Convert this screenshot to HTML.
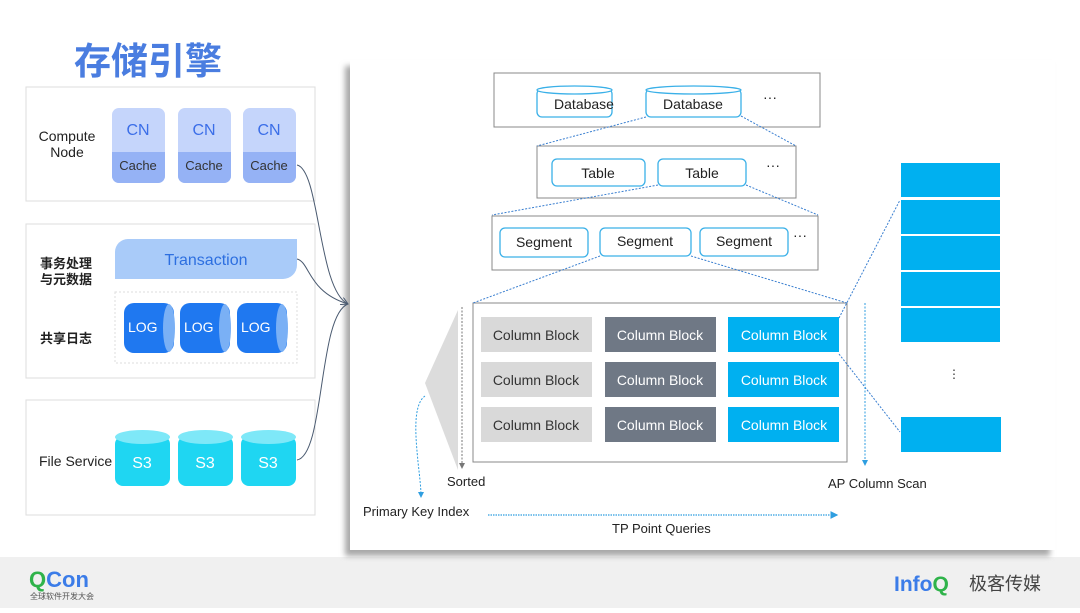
<!DOCTYPE html>
<html><head><meta charset="utf-8"><style>
html,body{margin:0;padding:0;background:#fff;}
svg text{font-family:"Liberation Sans","Noto Sans CJK SC",sans-serif;}
</style></head><body>
<svg width="1080" height="608" viewBox="0 0 1080 608" xmlns="http://www.w3.org/2000/svg">
<defs>
<filter id="sh" x="-5%" y="-5%" width="110%" height="115%"><feDropShadow dx="-5" dy="6" stdDeviation="3" flood-color="#999" flood-opacity="0.85"/></filter>
<marker id="ab" markerWidth="6" markerHeight="6" refX="5" refY="3" orient="auto"><path d="M0,0 L6,3 L0,6 z" fill="#2f9ee0"/></marker>
<marker id="ag" markerWidth="6" markerHeight="6" refX="5" refY="3" orient="auto"><path d="M0,0 L6,3 L0,6 z" fill="#777"/></marker>
<marker id="ak" markerWidth="8" markerHeight="8" refX="7" refY="4" orient="auto"><path d="M0,0 L7,4 L0,8" fill="none" stroke="#4a5a70" stroke-width="1"/></marker>
</defs>
<rect x="0" y="557" width="1080" height="51" fill="#f0f0f0"/>
<rect x="350" y="60" width="705" height="490" fill="#fff" filter="url(#sh)"/>

<text x="74" y="74" font-size="37" font-weight="bold" fill="#4a7de0">存储引擎</text>

<!-- left boxes -->
<rect x="26" y="87" width="289" height="114" fill="#fff" stroke="#ddd"/>
<rect x="26" y="224" width="289" height="154" fill="#fff" stroke="#ddd"/>
<rect x="26" y="400" width="289" height="115" fill="#fff" stroke="#ddd"/>
<text x="67" y="141" font-size="14" text-anchor="middle" fill="#222">Compute</text>
<text x="67" y="157" font-size="14" text-anchor="middle" fill="#222">Node</text>
<g font-size="16" text-anchor="middle">
<rect x="112" y="108" width="53" height="75" rx="7" fill="#c5d5fb"/><path d="M112,152 H165 V176 a7,7 0 0 1 -7,7 H119 a7,7 0 0 1 -7,-7 z" fill="#95b2f5"/>
<text x="138" y="135" fill="#3b6ee8">CN</text><text x="138" y="170" font-size="13" fill="#333">Cache</text>
<rect x="178" y="108" width="53" height="75" rx="7" fill="#c5d5fb"/><path d="M178,152 H231 V176 a7,7 0 0 1 -7,7 H185 a7,7 0 0 1 -7,-7 z" fill="#95b2f5"/>
<text x="204" y="135" fill="#3b6ee8">CN</text><text x="204" y="170" font-size="13" fill="#333">Cache</text>
<rect x="243" y="108" width="53" height="75" rx="7" fill="#c5d5fb"/><path d="M243,152 H296 V176 a7,7 0 0 1 -7,7 H250 a7,7 0 0 1 -7,-7 z" fill="#95b2f5"/>
<text x="269" y="135" fill="#3b6ee8">CN</text><text x="269" y="170" font-size="13" fill="#333">Cache</text>
</g>
<text x="40" y="268" font-size="13" font-weight="bold" fill="#222">事务处理</text>
<text x="40" y="284" font-size="13" font-weight="bold" fill="#222">与元数据</text>
<text x="40" y="343" font-size="13" font-weight="bold" fill="#222">共享日志</text>
<path d="M128,239 H297 V265 a14,14 0 0 1 -14,14 H115 V252 a13,13 0 0 1 13,-13 z" fill="#a9cbf9"/>
<text x="206" y="265" font-size="16" text-anchor="middle" fill="#2d6fe0">Transaction</text>
<rect x="115" y="292" width="182" height="71" fill="none" stroke="#ddd" stroke-dasharray="2,2"/>
<g font-size="14" fill="#fff">
<rect x="124" y="303" width="50" height="50" rx="10" fill="#1f78f0"/><ellipse cx="169" cy="328" rx="6" ry="24" fill="#7ab0f5"/><text x="128" y="332">LOG</text>
<rect x="180" y="303" width="50" height="50" rx="10" fill="#1f78f0"/><ellipse cx="225" cy="328" rx="6" ry="24" fill="#7ab0f5"/><text x="184" y="332">LOG</text>
<rect x="237" y="303" width="50" height="50" rx="10" fill="#1f78f0"/><ellipse cx="282" cy="328" rx="6" ry="24" fill="#7ab0f5"/><text x="241" y="332">LOG</text>
</g>
<text x="39" y="466" font-size="14" fill="#222">File Service</text>
<g font-size="16" fill="#fff" text-anchor="middle">
<rect x="115" y="436" width="55" height="50" rx="8" fill="#1fd6f2"/><ellipse cx="142.5" cy="437" rx="27.5" ry="7" fill="#7ee8f8"/><text x="142" y="468">S3</text>
<rect x="178" y="436" width="55" height="50" rx="8" fill="#1fd6f2"/><ellipse cx="205.5" cy="437" rx="27.5" ry="7" fill="#7ee8f8"/><text x="205" y="468">S3</text>
<rect x="241" y="436" width="55" height="50" rx="8" fill="#1fd6f2"/><ellipse cx="268.5" cy="437" rx="27.5" ry="7" fill="#7ee8f8"/><text x="268" y="468">S3</text>
</g>
<g fill="none" stroke="#4a5a70" stroke-width="1">
<path d="M297,165 C320,170 318,290 348,304" marker-end="url(#ak)"/>
<path d="M297,259 C310,262 308,292 348,304"/>
<path d="M297,460 C325,455 318,315 348,304"/>
</g>

<!-- main panel -->
<g fill="none" stroke="#888" stroke-width="1">
<rect x="494" y="73" width="326" height="54"/>
<rect x="537" y="146" width="259" height="52"/>
<rect x="492" y="216" width="326" height="54"/>
<rect x="473" y="303" width="374" height="159"/>
</g>
<g stroke="#3ab0e8" stroke-width="1.3" fill="#fff" font-size="14">
<rect x="537" y="89" width="75" height="28" rx="5"/><ellipse cx="574.5" cy="90" rx="37.5" ry="4"/>
<rect x="646" y="89" width="95" height="28" rx="5"/><ellipse cx="693.5" cy="90" rx="47.5" ry="4"/>
<rect x="552" y="159" width="93" height="27" rx="5"/><rect x="658" y="159" width="88" height="27" rx="5"/>
<rect x="500" y="228" width="88" height="29" rx="5"/><rect x="600" y="228" width="91" height="28" rx="5"/><rect x="700" y="228" width="88" height="28" rx="5"/>
</g>
<g font-size="14" fill="#222" text-anchor="middle">
<text x="584" y="109">Database</text><text x="693" y="109">Database</text>
<text x="598" y="178">Table</text><text x="702" y="178">Table</text>
<text x="544" y="247">Segment</text><text x="645" y="246">Segment</text><text x="744" y="246">Segment</text>
<text x="770" y="102">···</text><text x="773" y="170">···</text><text x="800" y="240">···</text>
</g>
<g stroke="#3a7fd0" stroke-width="1" stroke-dasharray="2,1.5" fill="none">
<line x1="646" y1="117" x2="537" y2="146"/><line x1="741" y1="116" x2="796" y2="146"/>
<line x1="658" y1="185" x2="492" y2="215"/><line x1="746" y1="185" x2="818" y2="215"/>
<line x1="600" y1="256" x2="473" y2="303"/><line x1="691" y1="256" x2="847" y2="303"/>
<line x1="839" y1="318" x2="900" y2="200"/><line x1="839" y1="354" x2="900" y2="432"/>
</g>
<g font-size="14" text-anchor="middle">
<rect x="481" y="317" width="111" height="35" fill="#d9d9d9"/><text x="536" y="340" fill="#333">Column Block</text>
<rect x="481" y="362" width="111" height="35" fill="#d9d9d9"/><text x="536" y="385" fill="#333">Column Block</text>
<rect x="481" y="407" width="111" height="35" fill="#d9d9d9"/><text x="536" y="430" fill="#333">Column Block</text>
<rect x="605" y="317" width="111" height="35" fill="#6f7885"/><text x="660" y="340" fill="#fff">Column Block</text>
<rect x="605" y="362" width="111" height="35" fill="#6f7885"/><text x="660" y="385" fill="#fff">Column Block</text>
<rect x="605" y="407" width="111" height="35" fill="#6f7885"/><text x="660" y="430" fill="#fff">Column Block</text>
<rect x="728" y="317" width="111" height="35" fill="#00b0f0"/><text x="784" y="340" fill="#fff">Column Block</text>
<rect x="728" y="362" width="111" height="35" fill="#00b0f0"/><text x="784" y="385" fill="#fff">Column Block</text>
<rect x="728" y="407" width="111" height="35" fill="#00b0f0"/><text x="784" y="430" fill="#fff">Column Block</text>
</g>
<g fill="#00b0f0">
<rect x="901" y="163" width="99" height="34"/><rect x="901" y="200" width="99" height="34"/><rect x="901" y="236" width="99" height="34"/><rect x="901" y="272" width="99" height="34"/><rect x="901" y="308" width="99" height="34"/>
<rect x="901" y="417" width="100" height="35"/>
</g>
<text x="954" y="378" font-size="12" fill="#333" text-anchor="middle">⋮</text>
<polygon points="458,310 458,470 425,383" fill="#dcdcdc"/>
<line x1="462" y1="307" x2="462" y2="468" stroke="#777" stroke-dasharray="2,1.5" marker-end="url(#ag)"/>
<line x1="865" y1="303" x2="865" y2="465" stroke="#2f9ee0" stroke-dasharray="2,1.5" marker-end="url(#ab)"/>
<path d="M425,396 C412,405 416,440 418,462 C420,480 421,488 421,497" fill="none" stroke="#2f9ee0" stroke-dasharray="2,1.5" marker-end="url(#ab)"/>
<line x1="488" y1="515" x2="837" y2="515" stroke="#2f9ee0" stroke-width="1.3" stroke-dasharray="1.5,1" marker-end="url(#ab)"/>
<g font-size="13" fill="#222">
<text x="447" y="486">Sorted</text>
<text x="363" y="516">Primary Key Index</text>
<text x="612" y="533">TP Point Queries</text>
<text x="828" y="488">AP Column Scan</text>
</g>

<!-- footer -->
<text x="29" y="587" font-size="22" font-weight="bold" fill="#2fb34a">Q<tspan fill="#3b7ce8">Con</tspan></text>
<text x="30" y="599" font-size="8" fill="#555">全球软件开发大会</text>
<text x="894" y="591" font-size="21" font-weight="bold" fill="#3b7ce8">Info<tspan fill="#2fb34a">Q</tspan></text>
<text x="969" y="590" font-size="18" fill="#444">极客传媒</text>
</svg>
</body></html>
